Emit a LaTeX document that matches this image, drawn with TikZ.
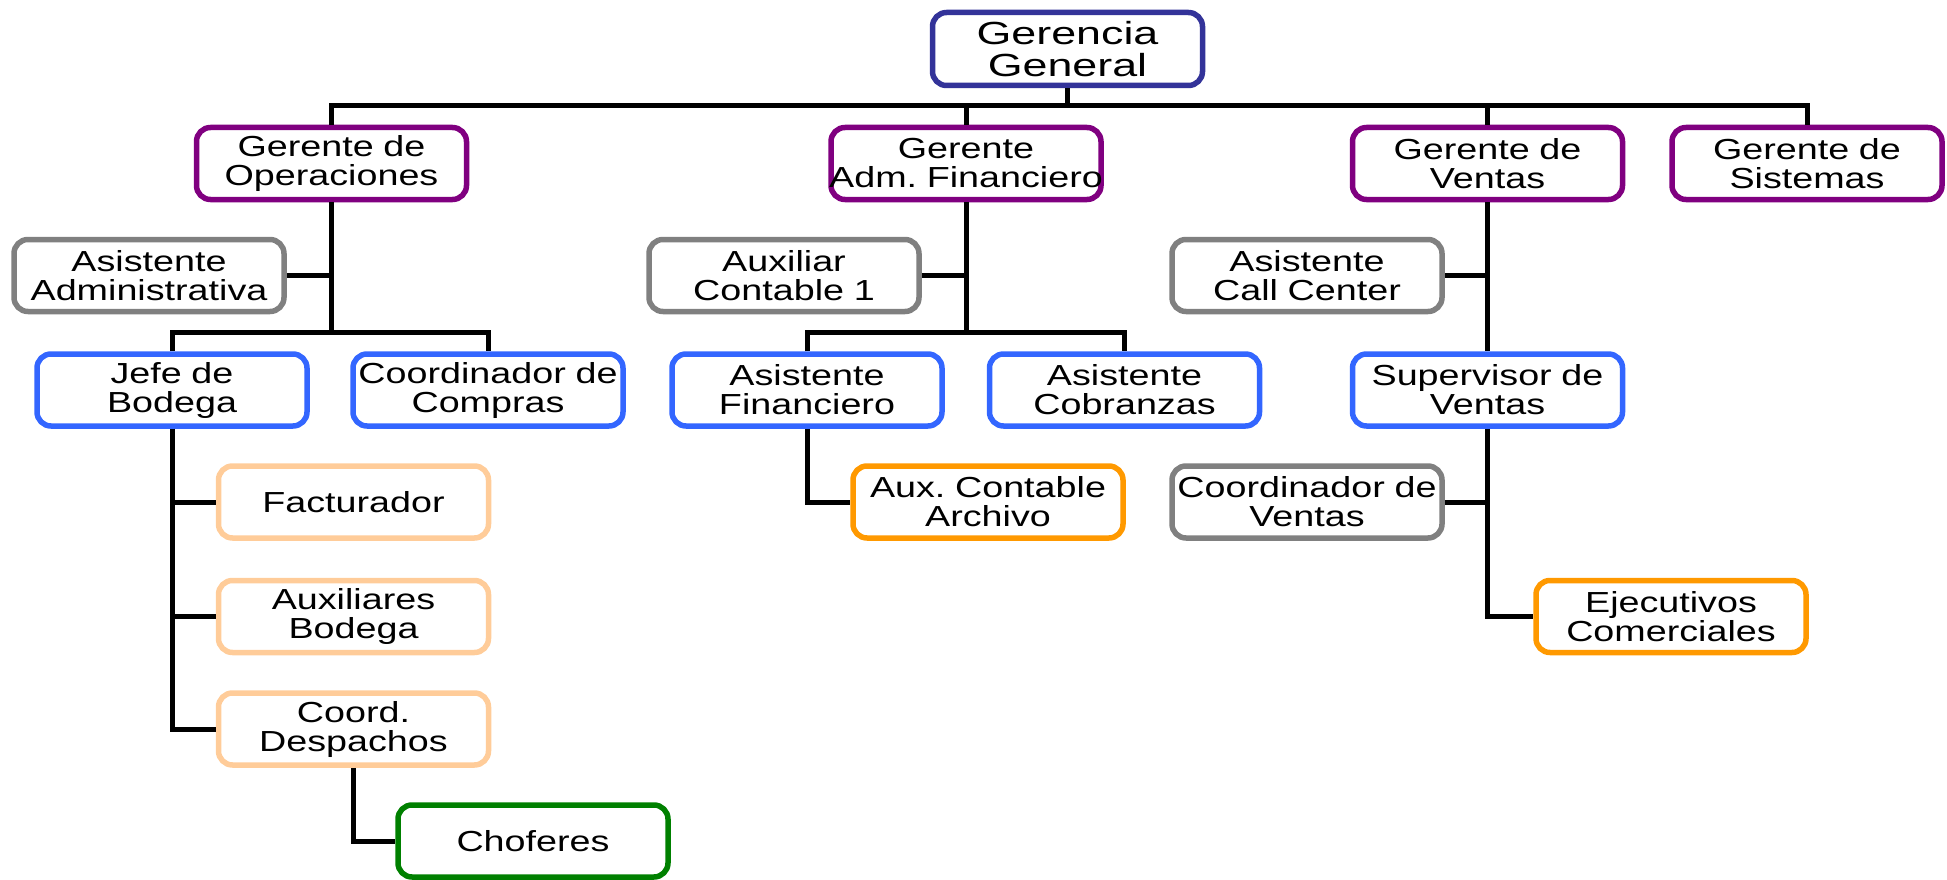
\documentclass[tikz,border=0pt]{standalone}
\usepackage{fontspec}
\newfontfamily\orgfont[FakeStretch=1.3]{Liberation Sans}
\newfontfamily\orgtopfont[FakeStretch=1.4]{Liberation Sans}
\usetikzlibrary{positioning}
\definecolor{topblue}{HTML}{333399}
\definecolor{mgrpurple}{HTML}{800080}
\definecolor{staffgray}{HTML}{808080}
\definecolor{headblue}{HTML}{3366FF}
\definecolor{peach}{HTML}{FFCC99}
\definecolor{darkorange}{HTML}{FF9900}
\definecolor{drvgreen}{HTML}{008000}
\tikzset{
  box/.style = {draw=#1, line width=5.5pt, rounded corners=14pt, fill=white,
    minimum width=270pt, minimum height=72pt, text width=300pt, align=center,
    inner xsep=-15pt, inner ysep=0pt,
    font=\orgfont\fontsize{29}{29}\selectfont},
  topbox/.style = {box={#1}, minimum height=73pt,
    font=\orgtopfont\fontsize{32}{32}\selectfont},
  link/.style = {color=#1, line width=5pt}
}
\begin{document}
\begin{tikzpicture}[x=1pt, y=-1pt]

    \useasboundingbox (0,0) rectangle (1947,880);

    % Boxes
    \node[topbox={topblue}] (gg) at (1067.5,49) {Gerencia\\General};

    \node[box={mgrpurple}] (op) at (331.5,163.5) {Gerente de\\Operaciones};
    \node[box={mgrpurple}] (af) at (966,163.5) {Gerente\\Adm.~Financiero};
    \node[box={mgrpurple}] (ve) at (1487.5,163.5) {Gerente de\\Ventas};
    \node[box={mgrpurple}] (si) at (1807,163.5) {Gerente de\\Sistemas};

    \node[box={staffgray}] (aa) at (149,275.5) {Asistente\\Administrativa};
    \node[box={staffgray}] (ac1) at (784,275.5) {Auxiliar\\Contable 1};
    \node[box={staffgray}] (acc) at (1307,275.5) {Asistente\\Call Center};

    \node[box={headblue}] (jb) at (172,390) {Jefe de\\Bodega};
    \node[box={headblue}] (cc) at (488,390) {Coordinador de\\Compras};
    \node[box={headblue}] (afi) at (807,390) {Asistente\\Financiero};
    \node[box={headblue}] (aco) at (1124.5,390) {Asistente\\Cobranzas};
    \node[box={headblue}] (sv) at (1487.5,390) {Supervisor de\\Ventas};

    \node[box={peach}] (fa) at (353.5,502) {Facturador};
    \node[box={peach}] (ab) at (353.5,616.5) {Auxiliares\\Bodega};
    \node[box={peach}] (cd) at (353.5,729) {Coord.\\Despachos};
    \node[box={drvgreen}] (ch) at (533,841) {Choferes};

    \node[box={darkorange}] (aca) at (988,502) {Aux.~Contable\\Archivo};
    \node[box={staffgray}] (cv) at (1307,502) {Coordinador de\\Ventas};
    \node[box={darkorange}] (ec) at (1671,616.5) {Ejecutivos\\Comerciales};

    % Buses
    \coordinate (topbus) at (1067.5,106);
    \coordinate (opbus) at (331.5,332);
    \coordinate (afbus) at (966,332);

    % Links
    \draw[link={black}] (gg.south) -- (topbus);
    \draw[link={black}] (op.north) |- (topbus) -| (si.north);
    \draw[link={black}] (af.north) -- (af.north |- topbus);
    \draw[link={black}] (ve.north) -- (ve.north |- topbus);

    \draw[link={black}] (op.south) -- (opbus);
    \draw[link={black}] (aa.east) -- (aa.east -| op.south);
    \draw[link={black}] (jb.north) |- (opbus) -| (cc.north);
    \foreach \sub in {fa,ab,cd} {
        \draw[link={black}] (jb.south) |- (\sub.west);
    }
    \draw[link={black}] (cd.south) |- (ch.west);

    \draw[link={black}] (af.south) -- (afbus);
    \draw[link={black}] (ac1.east) -- (ac1.east -| af.south);
    \draw[link={black}] (afi.north) |- (afbus) -| (aco.north);
    \draw[link={black}] (afi.south) |- (aca.west);

    \draw[link={black}] (ve.south) -- (sv.north);
    \draw[link={black}] (acc.east) -- (acc.east -| ve.south);
    \draw[link={black}] (cv.east) -- (cv.east -| sv.south);
    \draw[link={black}] (sv.south) |- (ec.west);

\end{tikzpicture}
\end{document}
